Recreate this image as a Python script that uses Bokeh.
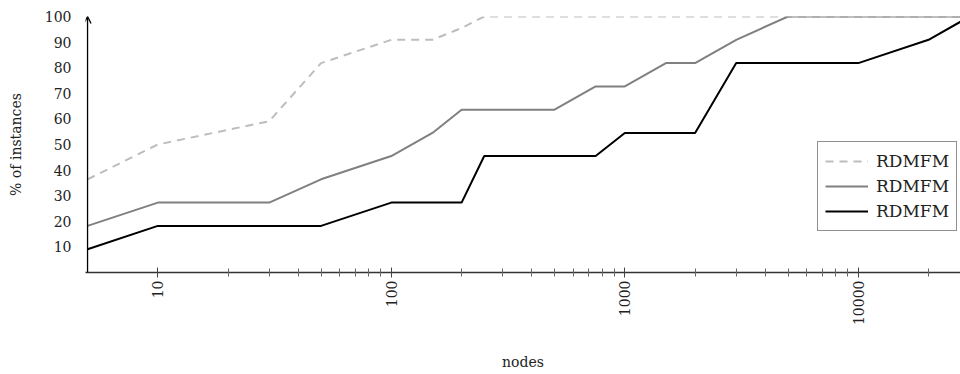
import math
from bokeh.plotting import figure
from bokeh.models import (Range1d, FixedTicker, LogAxis, LinearAxis, Legend, LegendItem,
                          Arrow, OpenHead, LogScale)
from bokeh.embed import file_html
from bokeh.resources import INLINE

# ---- data ----
x_dashed = [5, 10, 30, 50, 100, 150, 200, 250, 30000]
y_dashed = [36.4, 50.0, 59.1, 81.8, 90.9, 90.9, 95.5, 100, 100]

x_gray = [5, 10, 30, 50, 100, 150, 200, 500, 750, 1000, 1500, 2000, 3000, 5000, 30000]
y_gray = [18.2, 27.3, 27.3, 36.4, 45.5, 54.5, 63.6, 63.6, 72.7, 72.7, 81.8, 81.8, 90.9, 100, 100]

x_black = [5, 10, 50, 100, 200, 250, 750, 1000, 2000, 3000, 10000, 20000, 30000]
y_black = [9.1, 18.2, 18.2, 27.3, 27.3, 45.5, 45.5, 54.5, 54.5, 81.8, 81.8, 90.9, 100]

series_labels = ["RDMFM", "RDMFM", "RDMFM"]
x_major = [10, 100, 1000, 10000]
x_minor = [20, 30, 40, 50, 60, 70, 80, 90,
           200, 300, 400, 500, 600, 700, 800, 900,
           2000, 3000, 4000, 5000, 6000, 7000, 8000, 9000,
           20000]
y_ticks = [10, 20, 30, 40, 50, 60, 70, 80, 90, 100]
x_origin = 5

FONT = "DejaVu Serif"

p = figure(width=960, height=374, x_axis_type=None, y_axis_type=None,
           x_range=Range1d(4.9, 27400), y_range=Range1d(0, 100),
           output_backend="svg", toolbar_location=None,
           min_border_left=85, min_border_right=0, min_border_top=16,
           min_border_bottom=102)
p.x_scale = LogScale()
p.outline_line_color = None
p.background_fill_color = "white"

# x axis (log)
xaxis = LogAxis(ticker=FixedTicker(ticks=x_major, minor_ticks=x_minor))
xaxis.major_label_overrides = {v: str(v) for v in x_major}
xaxis.major_label_orientation = math.pi / 2
xaxis.major_label_text_font = FONT
xaxis.major_label_text_font_size = "14px"
xaxis.major_label_text_color = "#222222"
xaxis.major_label_standoff = 3
xaxis.axis_line_color = "#333333"
xaxis.axis_line_width = 1.5
xaxis.major_tick_in = 5
xaxis.major_tick_out = 5
xaxis.minor_tick_in = 4
xaxis.minor_tick_out = 4
xaxis.major_tick_line_color = "#444444"
xaxis.minor_tick_line_color = "#666666"
xaxis.axis_label = "nodes"
xaxis.axis_label_text_font = FONT
xaxis.axis_label_text_font_style = "normal"
xaxis.axis_label_text_font_size = "14px"
xaxis.axis_label_text_color = "#222222"
xaxis.axis_label_standoff = 26
p.add_layout(xaxis, "below")

# y axis
yaxis = LinearAxis(ticker=FixedTicker(ticks=y_ticks))
yaxis.major_label_text_font = FONT
yaxis.major_label_text_font_size = "14px"
yaxis.major_label_text_color = "#222222"
yaxis.major_label_standoff = 14
yaxis.major_tick_in = 0
yaxis.major_tick_out = 0
yaxis.minor_tick_in = 0
yaxis.minor_tick_out = 0
yaxis.axis_line_color = None
yaxis.axis_label = "% of instances"
yaxis.axis_label_text_font = FONT
yaxis.axis_label_text_font_style = "normal"
yaxis.axis_label_text_font_size = "14px"
yaxis.axis_label_text_color = "#222222"
yaxis.axis_label_standoff = 18
p.add_layout(yaxis, "left")

p.ygrid.ticker = FixedTicker(ticks=y_ticks)
p.ygrid.grid_line_color = "#cccccc"
p.ygrid.grid_line_width = 1.5
p.xgrid.grid_line_color = None

r1 = p.line(x_dashed, y_dashed, line_color="#bdbdbd", line_width=2, line_dash="8 6")
r2 = p.line(x_gray, y_gray, line_color="#808080", line_width=2)
r3 = p.line(x_black, y_black, line_color="black", line_width=2)

# y axis line with arrow head
p.add_layout(Arrow(end=OpenHead(size=7, line_color="black", line_width=1.3),
                   x_start=x_origin, y_start=0, x_end=x_origin, y_end=100,
                   line_color="black", line_width=1.3, level="overlay"))

legend = Legend(items=[LegendItem(label=series_labels[0], renderers=[r1]),
                       LegendItem(label=series_labels[1], renderers=[r2]),
                       LegendItem(label=series_labels[2], renderers=[r3])],
                location=(732, 41))
legend.label_text_font = FONT
legend.label_text_font_size = "17px"
legend.label_text_color = "#222222"
legend.glyph_width = 43
legend.glyph_height = 24
legend.label_height = 24
legend.label_standoff = 8
legend.spacing = 1
legend.padding = 7
legend.margin = 0
legend.border_line_color = "#222222"
legend.border_line_width = 1
legend.background_fill_color = "white"
legend.background_fill_alpha = 1.0
p.add_layout(legend, "center")

open("out.html", "w").write(file_html(p, INLINE))
